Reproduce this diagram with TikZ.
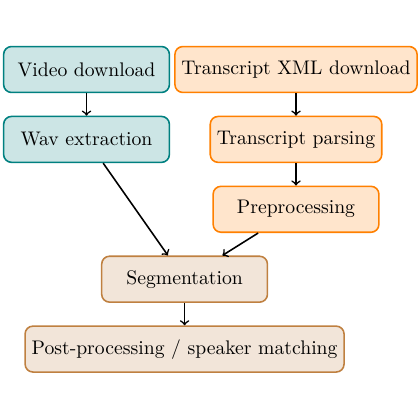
\documentclass[tikz,border=0pt]{standalone}
\usepackage{tikz}
\usetikzlibrary{positioning}
\tikzset{stage node/.style={rectangle,rounded corners=4pt,draw,thick,minimum width=2.96cm,minimum height=0.82cm},
         video node/.style={stage node,fill=teal!20,draw=teal},
         text node/.style={stage node,fill=orange!20,draw=orange},
         merge node/.style={stage node,fill=brown!20,draw=brown},
            }

\begin{document}
\begin{tikzpicture}
    \useasboundingbox (0,0) rectangle (7.5,-7.5);

    \node[video node] (video) at (1.545,-1.241) {Video download};
    \node[video node] (wav) [below = 0.4cm of video] {Wav extraction};
    \node[text node] (xml) at (5.286,-1.241) {Transcript XML download};
    \node[text node] (parse) [below = 0.4cm of xml] {Transcript parsing};
    \node[text node] (prep) [below = 0.4cm of parse] {Preprocessing};
    \node[merge node] (seg) [below = 0.4cm of prep, xshift=-1.99cm] {Segmentation};
    \node[merge node] (post) [below = 0.4cm of seg] {Post-processing / speaker matching};

    \path[draw,thick,->]
    (video) edge (wav)
    (xml) edge (parse)
    (parse) edge (prep)
    (wav) edge (seg)
    (prep) edge (seg)
    (seg) edge (post);
\end{tikzpicture}
\end{document}
